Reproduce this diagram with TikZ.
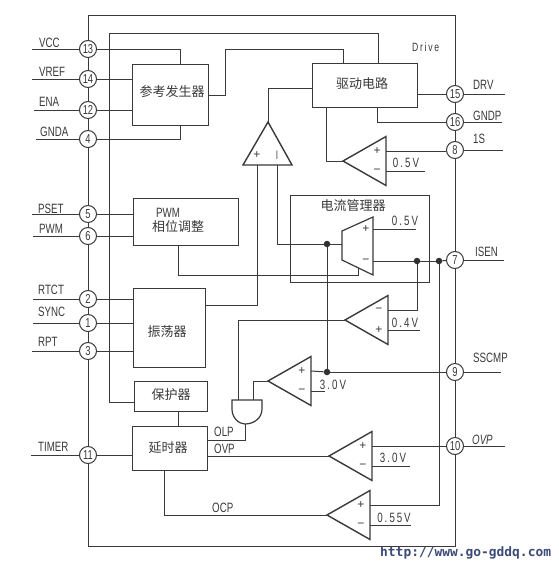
\documentclass[tikz,border=0pt]{standalone}
\usepackage{fontspec}
\setmainfont{Liberation Sans}
\newfontfamily\lab[FakeStretch=0.72]{Liberation Sans}
\newfontfamily\labi[FakeStretch=0.72,ItalicFont={Liberation Sans Italic}]{Liberation Sans}
\newfontfamily\spaced[FakeStretch=0.72,LetterSpace=14]{Liberation Sans}
\newfontfamily\cjk{Noto Sans CJK SC}
\newfontfamily\wm{DejaVu Sans Mono Bold}
\definecolor{ink}{HTML}{3A3A3A}
\definecolor{wmc}{HTML}{3C4A78}
\tikzset{
  line/.style={draw=ink,line width=1pt},
  tri/.style={draw=ink,line width=1.4pt,line join=miter,fill=white},
  blk/.style={draw=ink,line width=1pt,rectangle,inner sep=0pt},
  pin/.style={draw=ink,line width=1pt,circle,fill=white,minimum size=17pt,inner sep=0pt,text=ink,font=\lab\fontsize{13}{13}\selectfont},
  dot/.style={circle,fill=ink!85!black,minimum size=6.5pt,inner sep=0pt},
  lbl/.style={anchor=west,inner sep=0pt,text=ink,font=\lab\fontsize{13.5}{14}\selectfont},
  val/.style={anchor=center,inner sep=0pt,text=ink,font=\spaced\fontsize{13.5}{14}\selectfont},
  sgn/.style={anchor=center,inner sep=0pt,text=ink,font=\fontsize{12}{12}\selectfont},
  zh/.style={anchor=center,inner sep=0pt,text=ink,font=\cjk\fontsize{13}{15}\selectfont},
}
\newcommand{\comp}[5]{%
  \coordinate (#1-o) at (#2,#3);
  \coordinate (#1-a) at (#2+43,#3-24.5);
  \coordinate (#1-b) at (#2+43,#3+24.5);
  \coordinate (#1-u) at (#2+43,#3-10);
  \coordinate (#1-d) at (#2+43,#3+10);
  \draw[tri] (#1-o) -- (#1-a) -- (#1-b) -- cycle;
  \node[sgn] (#1-su) at (#2+34,#3-10) {#4};
  \node[sgn] (#1-sd) at (#2+34,#3+10) {#5};
}
\begin{document}
\begin{tikzpicture}[x=1pt,y=-1pt]
\useasboundingbox[fill=white] (0,0) rectangle (559,568);
% blocks
\node[blk,minimum width=76pt,minimum height=61pt] (ref) at (170,94.5) {};
\node[blk,minimum width=105pt,minimum height=47pt] (pwm) at (185.5,221.5) {};
\node[blk,minimum width=72pt,minimum height=79pt] (osc) at (169,327.5) {};
\node[blk,minimum width=73pt,minimum height=30pt] (prot) at (170.5,396) {};
\node[blk,minimum width=75pt,minimum height=44pt] (dly) at (169.5,448) {};
\node[blk,minimum width=105pt,minimum height=44pt] (drv) at (364.5,85) {};
\node[blk,minimum width=139pt,minimum height=87pt] (mgr) at (359.5,238.5) {};
% pins
\foreach \n/\y in {13/49,14/79,12/110,4/139,5/214,6/236,2/299,1/323,3/351,11/455}
  \node[pin] (p\n) at (88,\y) {\n};
\foreach \n/\y in {15/94,16/122,8/150,7/260,9/372,10/446}
  \node[pin] (p\n) at (455,\y) {\n};
% frame
\coordinate (tl) at (88,15); \coordinate (tr) at (455,15);
\coordinate (br) at (455,546); \coordinate (bl) at (88,546);
\draw[line] (p13) -- (tl) -- (tr) -- (p15);
\draw[line] (p15) -- (p16); \draw[line] (p16) -- (p8); \draw[line] (p8) -- (p7);
\draw[line] (p7) -- (p9); \draw[line] (p9) -- (p10);
\draw[line] (p10) -- (br) -- (bl) -- (p11);
\draw[line] (p11) -- (p3); \draw[line] (p3) -- (p1); \draw[line] (p1) -- (p2);
\draw[line] (p2) -- (p6); \draw[line] (p6) -- (p5); \draw[line] (p5) -- (p4);
\draw[line] (p4) -- (p12); \draw[line] (p12) -- (p14); \draw[line] (p14) -- (p13);
% external leads
\foreach \n/\x/\t/\ty/\tx in {13/32/VCC/43/39,14/32/VREF/72/39,12/34/ENA/102/39,4/36/GNDA/132/40,5/32/PSET/209/38,6/33/PWM/229/39,2/33/RTCT/290/38,1/33/SYNC/312/38,3/32/RPT/342/38,11/31/TIMER/447/38}{
  \coordinate (e\n) at (\x,0);
  \draw[line] (p\n) -- (p\n -| e\n);
  \node[lbl] (t\n) at (\tx,\ty) {\t};
}
\foreach \n/\x/\t/\ty/\tx in {15/505/DRV/85/473,16/502/GNDP/116/473,8/503/1S/139/473,7/504/ISEN/252/475,9/501/SSCMP/358/473}{
  \coordinate (e\n) at (\x,0);
  \draw[line] (p\n) -- (p\n -| e\n);
  \node[lbl] (t\n) at (\tx,\ty) {\t};
}
\coordinate (e10) at (505,0);
\draw[line] (p10) -- (p10 -| e10);
\node[lbl,font=\labi\itshape\fontsize{13.5}{14}\selectfont] (t10) at (472,440) {OVP};
% pins to blocks
\coordinate (a) at (180,49);
\draw[line] (p13) -- (a) -- (a |- ref.north);
\draw[line] (p14) -- (p14 -| ref.west);
\draw[line] (p12) -- (p12 -| ref.west);
\coordinate (b) at (180,139);
\draw[line] (p4) -- (b) -- (b |- ref.south);
\draw[line] (p5) -- (p5 -| pwm.west);
\draw[line] (p6) -- (p6 -| pwm.west);
\draw[line] (p2) -- (p2 -| osc.west);
\draw[line] (p1) -- (p1 -| osc.west);
\draw[line] (p3) -- (p3 -| osc.west);
\draw[line] (p11) -- (p11 -| dly.west);
% supply lines
\coordinate (s1) at (109,33); \coordinate (s2) at (378,33); \coordinate (s3) at (109,402);
\draw[line] (s3 -| prot.west) -- (s3) -- (s1) -- (s2) -- (s2 |- drv.north);
\coordinate (r1) at (225,95); \coordinate (r2) at (225,49); \coordinate (r3) at (343,49);
\draw[line] (r1 -| ref.east) -- (r1) -- (r2) -- (r3) -- (r3 |- drv.north);
\coordinate (k1) at (178,400);
\draw[line] (k1 |- prot.south) -- (k1 |- dly.north);
% comparators
\comp{ca}{343}{161}{+}{−}
\comp{cb}{345}{320}{−}{+}
\comp{cc}{268}{381}{+}{−}
\comp{cd}{329}{456}{+}{−}
\comp{ce}{327}{515}{+}{−}
% error amp
\coordinate (ea-o) at (268,122); \coordinate (ea-l) at (243,165); \coordinate (ea-r) at (292,165);
\coordinate (ea-p) at (257,165); \coordinate (ea-n) at (277,165);
\draw[tri] (ea-o) -- (ea-l) -- (ea-r) -- cycle;
\node[sgn] (ea-sp) at (257,155) {+};
\node[sgn,font=\fontsize{9}{9}\selectfont] (ea-sn) at (277,155) {|};
\coordinate (d1) at (268,88);
\draw[line] (ea-o) -- (d1) -- (d1 -| drv.west);
% mux
\coordinate (m1) at (342,231); \coordinate (m2) at (373,217); \coordinate (m3) at (373,275); \coordinate (m4) at (342,260);
\draw[line width=1.2pt,draw=ink] (m1) -- (m2) -- (m3) -- (m4) -- cycle;
\node[sgn] (m-sp) at (366,229) {+};
\node[sgn] (m-sn) at (366,261) {−};
% dots
\node[dot] (j1) at (327,244) {};
\node[dot] (j2) at (417,261) {};
\node[dot] (j3) at (439,261) {};
\node[dot] (j4) at (327,372) {};
% current manager wiring
\coordinate (m-in1) at (373,229); \coordinate (m-v) at (416,229);
\draw[line] (m-in1) -- (m-v);
\coordinate (m-out) at (342,244); \coordinate (u1) at (277,244);
\draw[line] (m-out) -- (j1); \draw[line] (j1) -- (u1) -- (ea-n);
\coordinate (m-in2) at (373,261);
\draw[line] (m-in2) -- (j2); \draw[line] (j2) -- (j3); \draw[line] (j3) -- (p7);
\coordinate (v1) at (178,275); \coordinate (v2) at (358,275); \coordinate (v3) at (358,268);
\draw[line] (v1 |- pwm.south) -- (v1) -- (v2) -- (v3);
\coordinate (w1) at (257,305);
\draw[line] (ea-p) -- (w1) -- (w1 -| osc.east);
% comparator a
\coordinate (f1) at (326,161);
\draw[line] (ca-o) -- (f1) -- (f1 |- drv.south);
\draw[line] (ca-u) -- (ca-u -| p8.west);
\coordinate (ca-e) at (425,171); \draw[line] (ca-d) -- (ca-e);
\draw[line] (drv.east |- p15) -- (p15);
\coordinate (g1) at (377,122);
\draw[line] (g1 |- drv.south) -- (g1) -- (p16);
% comparator b
\draw[line] (j1) -- (j4);
\coordinate (h1) at (417,310);
\draw[line] (j2) -- (h1) -- (cb-u);
\coordinate (cb-e) at (420,330); \draw[line] (cb-d) -- (cb-e);
% AND gate
\coordinate (g-tl) at (232,400); \coordinate (g-tr) at (262,400);
\coordinate (g-in1) at (238,400); \coordinate (g-in2) at (253,400); \coordinate (g-out) at (245,424);
\draw[line,line width=1.2pt,fill=white] (g-tl) -- (g-tr) -- (262,409) .. controls (262,418) and (254,424) .. (g-out) .. controls (239,424) and (232,418) .. (232,409) -- cycle;
\coordinate (x1) at (238,320);
\draw[line] (cb-o) -- (x1) -- (g-in1);
\coordinate (x2) at (253,381);
\draw[line] (cc-o) -- (x2) -- (g-in2);
\coordinate (x3) at (245,440);
\draw[line] (g-out) -- (x3) -- (x3 -| dly.east);
% comparator c
\draw[line] (cc-u) -- (j4); \draw[line] (j4) -- (p9);
\coordinate (cc-e) at (325,391); \draw[line] (cc-d) -- (cc-e);
% comparator d
\draw[line] (dly.east |- cd-o) -- (cd-o);
\draw[line] (cd-u) -- (cd-u -| p10.west);
\coordinate (cd-e) at (410,466); \draw[line] (cd-d) -- (cd-e);
% comparator e
\coordinate (y1) at (164,515);
\draw[line] (ce-o) -- (y1) -- (y1 |- dly.south);
\coordinate (z1) at (439,505);
\draw[line] (j3) -- (z1) -- (ce-u);
\coordinate (ce-e) at (411,525); \draw[line] (ce-d) -- (ce-e);
% values
\node[val] (v-a) at (406,163) {0.\,5V};
\node[val] (v-m) at (405,221) {0.\,5V};
\node[val] (v-b) at (405,323) {0.\,4V};
\node[val] (v-c) at (333,385) {3.\,0V};
\node[val] (v-d) at (393,458) {3.\,0V};
\node[val] (v-e) at (394,518) {0.\,55V};
\node[lbl] (olp) at (214,432) {OLP};
\node[lbl] (ovp) at (214,449) {OVP};
\node[lbl] (ocp) at (212,508) {OCP};
\node[lbl,font=\spaced\fontsize{12}{13}\selectfont] (drvt) at (412,47) {Drive};
% block texts
\node[zh] (t-ref) at (172,92) {参考发生器};
\node[lbl] (t-pwm1) at (156,213) {PWM};
\node[zh] (t-pwm2) at (178,227) {相位调整};
\node[zh] (t-osc) at (167,332) {振荡器};
\node[zh] (t-prot) at (171,395) {保护器};
\node[zh] (t-dly) at (168,448) {延时器};
\node[zh] (t-drv) at (362,84) {驱动电路};
\node[zh] (t-mgr) at (353,206) {电流管理器};
% watermark
\node[anchor=west,inner sep=0pt,text=wmc,font=\wm\fontsize{12.9}{14}\selectfont] (wmk) at (380,553) {http://www.go-gddq.com};
\end{tikzpicture}
\end{document}
